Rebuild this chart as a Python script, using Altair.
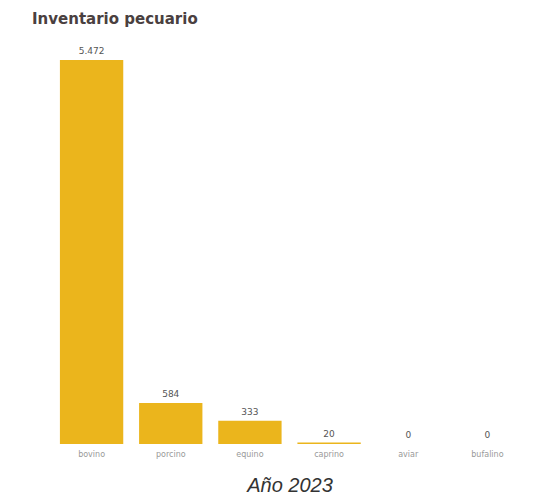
import altair as alt
import pandas as pd

categories = ["bovino", "porcino", "equino", "caprino", "aviar", "bufalino"]
values = [5472, 584, 333, 20, 0, 0]
value_labels = ["5.472", "584", "333", "20", "0", "0"]

df = pd.DataFrame({"cat": categories, "val": values, "lab": value_labels})

x = alt.X("cat:N", sort=categories,
          scale=alt.Scale(paddingInner=0.2, paddingOuter=0.1),
          axis=alt.Axis(title="Año 2023", labelAngle=0, ticks=False, domain=False,
                        labelFont="Verdana, DejaVu Sans", labelFontSize=8, labelColor="#999999",
                        labelPadding=6, titleFont="Liberation Sans", titleFontSize=20,
                        titleFontStyle="italic", titleFontWeight="normal", titleColor="#333333",
                        titlePadding=17))
y = alt.Y("val:Q", scale=alt.Scale(domain=[0, 5472], nice=False), axis=None)

bars = alt.Chart(df).mark_bar(color="#EBB51C").encode(x=x, y=y)
text = alt.Chart(df).mark_text(dy=-9, fontSize=9, color="#555555",
                               font="DejaVu Sans").encode(x=x, y=y, text="lab:N")

chart = (bars + text).properties(
    width=475, height=384,
    background="white",
    title=alt.TitleParams("Inventario pecuario", anchor="start", dx=-20, offset=20,
                          fontSize=15, font="DejaVu Sans", fontWeight="bold", color="#4a4040"),
    autosize=alt.AutoSizeParams(type="none"),
    padding={"left": 44, "top": 52, "right": 20, "bottom": 56},
).configure_view(strokeWidth=0)

chart.save("out.html", embed_options={"renderer": "svg", "actions": False})
